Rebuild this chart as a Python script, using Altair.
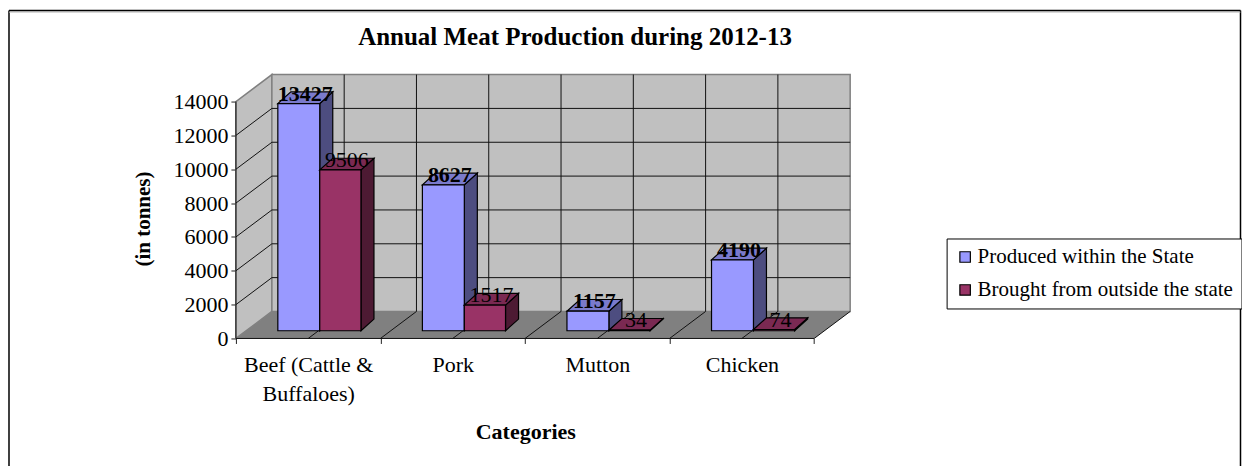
import altair as alt
import pandas as pd

categories = ["Beef (Cattle & Buffaloes)", "Pork", "Mutton", "Chicken"]
produced = [13427, 8627, 1157, 4190]
brought = [9506, 1517, 34, 74]
series_names = ["Produced within the State", "Brought from outside the state"]
y_ticks = [0, 2000, 4000, 6000, 8000, 10000, 12000, 14000]

FRONT = ["#9999FF", "#993366"]
SIDE = ["#4D4D80", "#4D1A33"]
TOP = ["#7A7ACC", "#7A2952"]
FONT = "Liberation Serif"

# depth of the box in scale units (categories, tonnes)
WALL_DX = 0.249
WALL_DY = 1595
BAR_DX = 0.09
BAR_DY = 690
BASE = 455
EDGES = [(0.29, 0.58), (0.58, 0.865)]
X_MAX = 4 + WALL_DX
Y_MAX = 14000 + WALL_DY

xs = alt.Scale(domain=[0, X_MAX], nice=False, zero=False)
ys = alt.Scale(domain=[0, Y_MAX], nice=False, zero=False)
X = lambda f="x": alt.X(f"{f}:Q", scale=xs, axis=None)
Y = lambda f="y": alt.Y(f"{f}:Q", scale=ys, axis=None)


def area(rows, **kw):
    df = pd.DataFrame(rows, columns=["k", "x", "y", "y2"])
    return alt.Chart(df).mark_area(orient="vertical", **kw).encode(
        x=X(), y=Y(), y2="y2:Q", detail="k:N")


def rules(rows, **kw):
    df = pd.DataFrame(rows, columns=["x", "x2", "y", "y2"])
    return alt.Chart(df).mark_rule(**kw).encode(x=X(), x2="x2:Q", y=Y(), y2="y2:Q")


marks = []
# walls and floor
marks.append(area([(0, 0, 0, 14000), (0, WALL_DX, WALL_DY, Y_MAX)], fill="#C0C0C0", stroke="#808080", strokeWidth=1.5))
marks.append(area([(0, WALL_DX, WALL_DY, Y_MAX), (0, X_MAX, WALL_DY, Y_MAX)], fill="#C0C0C0", stroke="#808080", strokeWidth=1.5))
marks.append(area([(0, 0, 0, 0), (0, WALL_DX, 0, WALL_DY), (0, 4, 0, WALL_DY), (0, X_MAX, WALL_DY, WALL_DY)], fill="#808080"))

# grid
grid = [(0, WALL_DX, v, v + WALL_DY) for v in y_ticks[1:-1]]
grid += [(WALL_DX, X_MAX, v + WALL_DY, v + WALL_DY) for v in y_ticks[1:-1]]
half = [i / 2 for i in range(1, 8)]
grid += [(h + WALL_DX, h + WALL_DX, WALL_DY, Y_MAX) for h in half]
grid += [(h, h + WALL_DX, 0, WALL_DY) for h in half]
grid += [(4, X_MAX, 0, WALL_DY)]
marks.append(rules(grid, color="#111111", strokeWidth=1))
marks.append(rules([(0, 0, 0, 14000), (0, 4, 0, 0)], color="#111111", strokeWidth=1))

# bars
labels = []
for s, vals in enumerate([produced, brought]):
    l, r = EDGES[s]
    side, top, front, lab = [], [], [], []
    for i, v in enumerate(vals):
        y0, y1 = BASE, BASE + v
        side += [(i, i + r, y0, y1), (i, i + r + BAR_DX, y0 + BAR_DY, y1 + BAR_DY)]
        top += [(i, i + l, y1, y1), (i, i + l + BAR_DX, y1, y1 + BAR_DY),
                (i, i + r, y1, y1 + BAR_DY), (i, i + r + BAR_DX, y1 + BAR_DY, y1 + BAR_DY)]
        front.append({"x": i + l, "x2": i + r, "y": y0, "y2": y1, "series": series_names[s]})
        lab.append({"x": i + (l + r + BAR_DX) / 2, "y": y1 + BAR_DY / 2, "t": str(v)})
    marks.append(area(side, fill=SIDE[s], stroke="black", strokeWidth=1.2))
    marks.append(area(top, fill=TOP[s], stroke="black", strokeWidth=1.2))
    marks.append(
        alt.Chart(pd.DataFrame(front)).mark_rect(stroke="black", strokeWidth=1.2).encode(
            x=X(), x2="x2:Q", y=Y(), y2="y2:Q",
            fill=alt.Fill("series:N", scale=alt.Scale(domain=series_names, range=FRONT),
                          legend=alt.Legend(
                              title=None, orient="none", legendX=711, legendY=164,
                              symbolType="square", symbolSize=110, symbolStrokeColor="black",
                              symbolStrokeWidth=1.2, labelFont=FONT, labelFontSize=21,
                              labelColor="black", labelLimit=400, strokeColor="black",
                              fillColor="white", padding=8, rowPadding=11, labelOffset=2,
                              symbolOpacity=1))))
    labels.append(alt.Chart(pd.DataFrame(lab)).mark_text(
        font=FONT, fontSize=22, fontWeight="bold" if s == 0 else "normal",
        color="black", baseline="middle", dy=-4).encode(x=X(), y=Y(), text="t:N"))

# axes
tick_df = pd.DataFrame({"x": [0, 1, 2, 3, 4], "y": [0] * 5})
y_axis = alt.Chart(tick_df).mark_point(opacity=0).encode(
    x=alt.X("x:Q", scale=xs, axis=alt.Axis(
        orient="bottom", values=[0, 1, 2, 3, 4], labels=False, domain=False, grid=False,
        tickColor="#222222", tickSize=5, title=None)),
    y=alt.Y("y:Q", scale=ys, axis=alt.Axis(
        orient="left", values=y_ticks, domain=False, grid=False, tickColor="#222222", tickSize=5,
        format="d", labelFont=FONT, labelFontSize=22, labelColor="black", labelPadding=3,
        title="(in tonnes)", titleFont=FONT, titleFontSize=21, titleFontWeight="bold",
        titleColor="black", titleX=-82, titleY=144)))
label_expr = ("datum.value < 1 ? ['Beef (Cattle &', 'Buffaloes)'] : datum.value < 2 ? 'Pork' : "
              "datum.value < 3 ? 'Mutton' : 'Chicken'")
x_axis = alt.Chart(tick_df).mark_point(opacity=0).encode(
    x=alt.X("x:Q", scale=xs, axis=alt.Axis(
        orient="bottom", values=[0.5, 1.5, 2.5, 3.5], labelExpr=label_expr, ticks=False,
        domain=False, grid=False, labelFont=FONT, labelFontSize=22, labelColor="black",
        labelPadding=16, labelLineHeight=29, labelAngle=0, labelOverlap=False, labelBound=False,
        labelFlush=False, title="Categories", titleFont=FONT, titleFontSize=22,
        titleFontWeight="bold", titleColor="black", titleX=289.5, titleY=93,
        titleBaseline="middle")),
    y=Y())

# frame
one = pd.DataFrame({"a": [0]})
frame = [
    alt.Chart(one).mark_rule(color="black", strokeWidth=1.5).encode(
        x=alt.value(-227), y=alt.value(-64), y2=alt.value(392)),
    alt.Chart(one).mark_rule(color="black", strokeWidth=1.5).encode(
        x=alt.value(1005), y=alt.value(-64), y2=alt.value(392)),
    alt.Chart(one).mark_rule(color="#BBBBBB", strokeWidth=1).encode(
        y=alt.value(-62.5), x=alt.value(-227), x2=alt.value(1005)),
    alt.Chart(one).mark_rule(color="black", strokeWidth=1.5).encode(
        y=alt.value(-64), x=alt.value(-227), x2=alt.value(1005)),
]

chart = alt.layer(*frame, *marks, *labels, y_axis, x_axis).resolve_axis(x="independent", y="independent").properties(
    width=614.5, height=264,
    padding={"left": 0, "top": 1.5, "right": 0, "bottom": 0},
    background="white",
    title=alt.TitleParams(
        "Annual Meat Production during 2012-13", font=FONT, fontSize=25, fontWeight="bold",
        color="black", anchor="middle", dx=32, dy=40, offset=0),
).configure_view(stroke=None)

chart.save("out.html", embed_options={"renderer": "svg", "actions": False})
